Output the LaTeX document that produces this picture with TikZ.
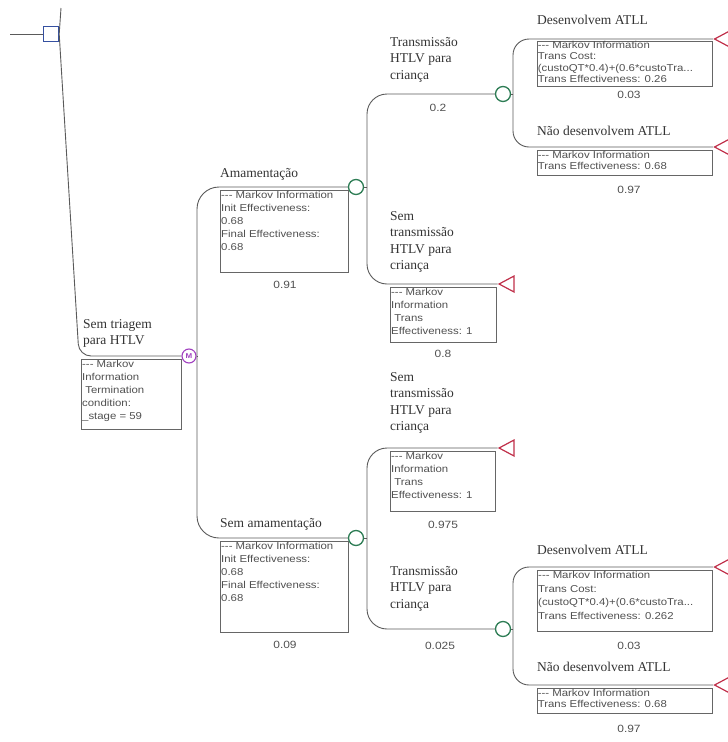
\documentclass[tikz,border=0pt]{standalone}
\usepackage{fontspec}
\setmainfont{Liberation Serif}
\newfontfamily\boxfont[FakeStretch=1.14]{Liberation Sans}
\usetikzlibrary{shapes.geometric}
\definecolor{linec}{HTML}{5A5A5A}
\definecolor{boxc}{HTML}{666666}
\definecolor{txt}{HTML}{333333}
\definecolor{boxtxt}{HTML}{505050}
\definecolor{chance}{HTML}{2E7D55}
\definecolor{termc}{HTML}{C0304A}
\definecolor{markc}{HTML}{A040C0}
\definecolor{decc}{HTML}{3550A0}
\tikzset{
  conn/.style={draw=linec, line width=0.9pt},
  chancenode/.style={circle, draw=chance, line width=1.3pt, fill=white, minimum size=15pt, inner sep=0pt},
  termnode/.style={isosceles triangle, shape border rotate=180, isosceles triangle stretches,
     draw=termc, line width=1.2pt, minimum width=16pt, minimum height=15pt, inner sep=0pt, anchor=apex},
  marknode/.style={circle, draw=markc, line width=1.1pt, fill=white, minimum size=14pt, inner sep=0pt,
     text=markc, font={\boxfont\fontsize{7}{7}\selectfont\bfseries}},
  decnode/.style={rectangle, draw=decc, line width=1.4pt, fill=white, minimum size=15pt, inner sep=0pt},
  box/.style={draw=boxc, line width=0.8pt, anchor=north west, inner sep=0pt},
  btext/.style={anchor=north west, align=left, text=boxtxt, inner sep=1pt,
     font={\boxfont\fontsize{10}{13}\selectfont}},
  btextt/.style={btext, inner sep=0.6pt, font={\boxfont\fontsize{10}{11.3}\selectfont}},
  btextw/.style={btext, font={\boxfont\fontsize{10}{13.7}\selectfont}},
  lbl/.style={anchor=north west, align=left, text=txt, inner sep=0pt,
     font={\fontsize{13.5}{16.5}\selectfont}},
  prob/.style={text=boxtxt, inner sep=0pt, font={\boxfont\fontsize{10.5}{12}\selectfont}},
}
\begin{document}
\begin{tikzpicture}[x=1pt,y=-1pt]
\useasboundingbox (0,0) rectangle (728,742);

% decision node and root
\coordinate (in) at (10,34);
\coordinate (dtop) at (61,8);
\node[decnode] (dec) at (51,34) {};
\draw[conn] (in) -- (dec.west);
\draw[conn] (dtop) -- (dec.east);

% Markov node
\node[marknode] (mk) at (189,356) {M};
\draw[conn, rounded corners=12pt] (dec.east) -- (79,356) -- (mk.west);
\node[lbl] (lsem) at (83,319) {Sem triagem\\para HTLV};
\node[box, minimum width=100pt, minimum height=70pt] (bsem) at (81,359) {};
\node[btext] (tsem) at (bsem.north west) {--- Markov\\Information\\\ Termination\\condition:\\\_stage = 59};

% chance nodes level 1
\node[chancenode] (c1) at (356,187) {};
\node[chancenode] (c2) at (356,538) {};
\coordinate (mkv) at (197,356);
\draw[conn] (mk.east) -- (mkv);
\draw[conn, rounded corners=22pt] (mkv) -- (197,187) -- (c1.west);
\draw[conn, rounded corners=22pt] (mkv) -- (197,538) -- (c2.west);

\node[lbl] (lam) at (220,168) {Amamentação};
\node[box, minimum width=128pt, minimum height=82pt] (bam) at (220,190) {};
\node[btext] (tam) at (bam.north west) {--- Markov Information\\Init Effectiveness:\\0.68\\Final Effectiveness:\\0.68};
\node[prob] (pam) at (285,285) {0.91};

\node[lbl] (lsa) at (220,518) {Sem amamentação};
\node[box, minimum width=128pt, minimum height=91pt] (bsa) at (220,541) {};
\node[btext] (tsa) at (bsa.north west) {--- Markov Information\\Init Effectiveness:\\0.68\\Final Effectiveness:\\0.68};
\node[prob] (psa) at (285,645) {0.09};

% level 2 from c1
\node[chancenode] (c3) at (503,94) {};
\node[termnode] (t1) at (497.5,284) {};
\coordinate (c1v) at (367,187);
\draw[conn] (c1.east) -- (c1v);
\draw[conn, rounded corners=20pt] (c1v) -- (367,94) -- (c3.west);
\draw[conn, rounded corners=20pt] (c1v) -- (367,284) -- (t1.apex);

\node[lbl] (ltr1) at (390,37) {Transmissão\\HTLV para\\criança};
\node[prob] (ptr1) at (438,108) {0.2};
\node[lbl] (lst1) at (390,211) {Sem\\transmissão\\HTLV para\\criança};
\node[box, minimum width=106pt, minimum height=55pt] (bst1) at (390,287) {};
\node[btext] (tst1) at (bst1.north west) {--- Markov\\Information\\\ Trans\\Effectiveness: 1};
\node[prob] (pst1) at (443,354) {0.8};

% level 2 from c2
\node[termnode] (t2) at (497.5,448) {};
\node[chancenode] (c4) at (503,629) {};
\coordinate (c2v) at (367,538);
\draw[conn] (c2.east) -- (c2v);
\draw[conn, rounded corners=20pt] (c2v) -- (367,448) -- (t2.apex);
\draw[conn, rounded corners=20pt] (c2v) -- (367,629) -- (c4.west);

\node[lbl] (lst2) at (390,372) {Sem\\transmissão\\HTLV para\\criança};
\node[box, minimum width=105pt, minimum height=60pt] (bst2) at (390,451) {};
\node[btext] (tst2) at (bst2.north west) {--- Markov\\Information\\\ Trans\\Effectiveness: 1};
\node[prob] (pst2) at (443,525) {0.975};
\node[lbl] (ltr2) at (390,566) {Transmissão\\HTLV para\\criança};
\node[prob] (ptr2) at (440,646) {0.025};

% level 3 from c3
\node[termnode] (t3) at (713,39) {};
\node[termnode] (t4) at (713,147) {};
\coordinate (c3v) at (513,94);
\draw[conn] (c3.east) -- (c3v);
\draw[conn, rounded corners=16pt] (c3v) -- (513,39) -- (t3.apex);
\draw[conn, rounded corners=16pt] (c3v) -- (513,147) -- (t4.apex);

\node[lbl] (ld1) at (537,15) {Desenvolvem ATLL};
\node[box, minimum width=175pt, minimum height=45pt] (bd1) at (537,40.5) {};
\node[btextt] (td1) at (bd1.north west) {--- Markov Information\\Trans Cost:\\(custoQT*0.4)+(0.6*custoTra...\\Trans Effectiveness: 0.26};
\node[prob] (pd1) at (629,95) {0.03};
\node[lbl] (ln1) at (537,126) {Não desenvolvem ATLL};
\node[box, minimum width=175pt, minimum height=25pt] (bn1) at (537,150) {};
\node[btextt] (tn1) at (bn1.north west) {--- Markov Information\\Trans Effectiveness: 0.68};
\node[prob] (pn1) at (629,190) {0.97};

% level 3 from c4
\node[termnode] (t5) at (713,567) {};
\node[termnode] (t6) at (713,685) {};
\coordinate (c4v) at (513,629);
\draw[conn] (c4.east) -- (c4v);
\draw[conn, rounded corners=16pt] (c4v) -- (513,567) -- (t5.apex);
\draw[conn, rounded corners=16pt] (c4v) -- (513,685) -- (t6.apex);

\node[lbl] (ld2) at (537,545) {Desenvolvem ATLL};
\node[box, minimum width=175pt, minimum height=61pt] (bd2) at (537,570) {};
\node[btextw] (td2) at (bd2.north west) {--- Markov Information\\Trans Cost:\\(custoQT*0.4)+(0.6*custoTra...\\Trans Effectiveness: 0.262};
\node[prob] (pd2) at (629,646) {0.03};
\node[lbl] (ln2) at (537,662) {Não desenvolvem ATLL};
\node[box, minimum width=175pt, minimum height=25pt] (bn2) at (537,688) {};
\node[btextt] (tn2) at (bn2.north west) {--- Markov Information\\Trans Effectiveness: 0.68};
\node[prob] (pn2) at (629,729) {0.97};
\end{tikzpicture}
\end{document}
